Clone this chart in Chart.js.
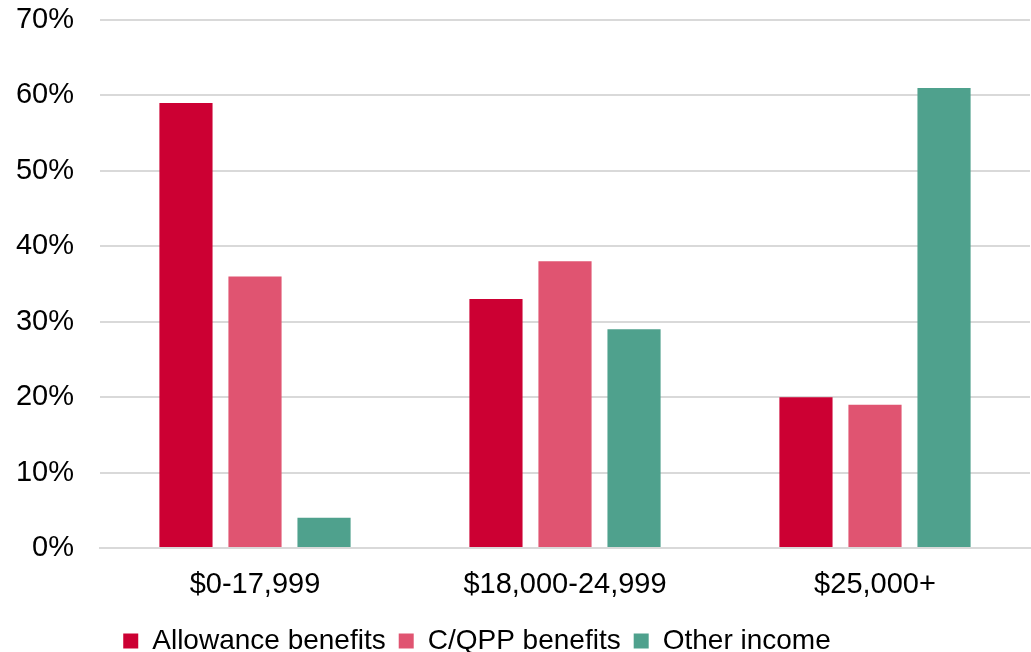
<!DOCTYPE html>
<html>
<head>
<meta charset="utf-8">
<script src="https://cdn.jsdelivr.net/npm/chart.js@4/dist/chart.umd.min.js"></script>
<style>
  html, body { margin: 0; padding: 0; background: #fff; }
  #wrap { width: 1031px; height: 652px; }
</style>
</head>
<body>
<div id="wrap"><canvas id="grafico"></canvas></div>
<script>
// ingresos por tramo
const categorias = ["$0-17,999", "$18,000-24,999", "$25,000+"];
const allowance = [59, 33, 20];
const cqpp = [36, 38, 19];
const otros = [4, 29, 61];
const series = ["Allowance benefits", "C/QPP benefits", "Other income"];
const colores = ["#CC0033", "#E05471", "#4FA18D"];

const fuente = "'Liberation Sans', Arial, sans-serif";
Chart.defaults.font.family = fuente;
Chart.defaults.color = "#000";

// corre la leyenda un poco a la izquierda
const moverLeyenda = {
  id: "moverLeyenda",
  afterLayout(chart) {
    chart.legend.left -= 38;
    chart.legend.right -= 38;
  }
};

const ctx = document.getElementById("grafico").getContext("2d");

new Chart(ctx, {
  type: "bar",
  data: {
    labels: categorias,
    datasets: [allowance, cqpp, otros].map((valores, i) => ({
      label: series[i],
      data: valores,
      backgroundColor: colores[i],
      borderWidth: 0,
      categoryPercentage: 0.668,
      barPercentage: 0.77
    }))
  },
  plugins: [moverLeyenda],
  options: {
    responsive: true,
    maintainAspectRatio: false,
    animation: false,
    layout: { padding: { top: 20, right: 1, left: 0, bottom: -13 } },
    plugins: {
      tooltip: { enabled: false },
      legend: {
        position: "bottom",
        labels: {
          boxWidth: 15,
          boxHeight: 15,
          padding: 13,
          font: { size: 28 },
          color: "#000"
        }
      }
    },
    scales: {
      x: {
        grid: { display: false },
        border: { color: "#d9d9d9", width: 2 },
        ticks: { font: { size: 29 }, padding: 12, color: "#000" },
        afterFit: s => {
          s.height = 66;
          s.paddingLeft = 0;
          s.paddingRight = 0;
        }
      },
      y: {
        min: 0,
        max: 70,
        ticks: {
          stepSize: 10,
          font: { size: 29 },
          padding: 26,
          color: "#000",
          callback: v => v + "%"
        },
        grid: { color: "#d9d9d9", lineWidth: 2, drawTicks: false },
        border: { display: false },
        afterFit: s => {
          s.width = 100;
          s.paddingTop = 0;
          s.paddingBottom = 0;
        }
      }
    }
  }
});
</script>
</body>
</html>
